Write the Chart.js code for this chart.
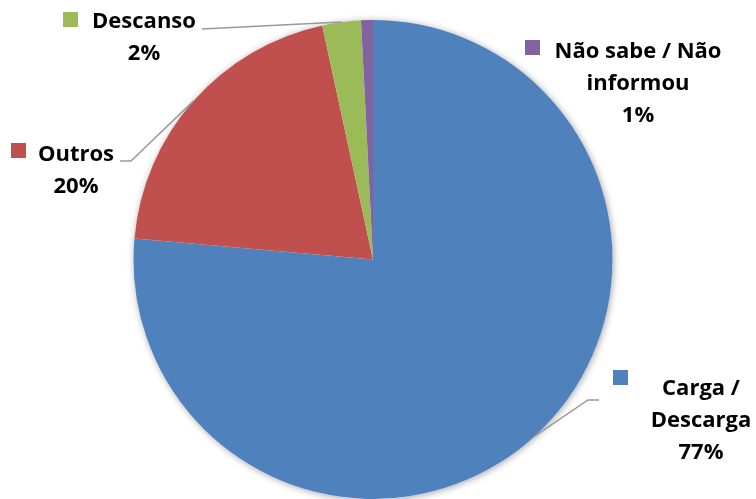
<!DOCTYPE html>
<html lang="pt">
<head>
<meta charset="UTF-8">
<meta name="viewport" content="width=device-width, initial-scale=1.0">
<title>Motivo da parada</title>
<style>
    html, body { margin: 0; padding: 0; background: #fff; }
    #wrap { width: 756px; height: 499px; position: relative; }
</style>
</head>
<body>
<div id="wrap"><canvas id="pie-chart"></canvas></div>

<script src="https://cdn.jsdelivr.net/npm/chart.js"></script>
<script>
    const categories = [['Carga /', 'Descarga'], ['Outros'], ['Descanso'], ['Não sabe / Não', 'informou']];
    const shares = [76.4, 20.2, 2.6, 0.8];
    const shareLabels = ['77%', '20%', '2%', '1%'];

    const colors = ['#4F81BD', '#C0504D', '#9BBB59', '#8064A2'];

    // where each data label sits (text centre, first baseline, legend key, leader bend)
    const labelLayout = [
        { cx: 701, base: 395, key: [613, 370], leader: [[588, 400], [599, 400]] },
        { cx: 76, base: 161, key: [11, 143], leader: [[131, 161], [120, 161]] },
        { cx: 144, base: 28, key: [63, 12], leader: [[202, 29]] },
        { cx: 638, base: 58, key: [525, 40], leader: null },
    ];
    const lineHeight = 32;
    const labelFont = 'bold 22px "Open Sans", "Liberation Sans", sans-serif';

    const pieShadow = {
        id: 'pieShadow',
        beforeDatasetsDraw(chart) {
            const arc = chart.getDatasetMeta(0).data[0];
            if (!arc) return;
            const ctx = chart.ctx;
            ctx.save();
            ctx.shadowColor = 'rgba(0, 0, 0, 0.35)';
            ctx.shadowBlur = 7;
            ctx.shadowOffsetX = 1;
            ctx.shadowOffsetY = 1;
            ctx.fillStyle = '#ffffff';
            ctx.beginPath();
            ctx.arc(arc.x, arc.y, arc.outerRadius, 0, Math.PI * 2);
            ctx.fill();
            ctx.restore();
        }
    };

    const sliceLabels = {
        id: 'sliceLabels',
        afterDatasetsDraw(chart) {
            const ctx = chart.ctx;
            const arcs = chart.getDatasetMeta(0).data;
            ctx.save();
            arcs.forEach((arc, i) => {
                const pos = labelLayout[i];
                const mid = (arc.startAngle + arc.endAngle) / 2;
                const ex = arc.x + Math.cos(mid) * arc.outerRadius;
                const ey = arc.y + Math.sin(mid) * arc.outerRadius;

                if (pos.leader) {
                    ctx.strokeStyle = '#999999';
                    ctx.lineWidth = 1.5;
                    ctx.beginPath();
                    ctx.moveTo(ex, ey);
                    pos.leader.forEach(p => ctx.lineTo(p[0], p[1]));
                    ctx.stroke();
                }

                ctx.fillStyle = colors[i];
                ctx.fillRect(pos.key[0], pos.key[1], 15, 15);

                ctx.fillStyle = '#000';
                ctx.font = labelFont;
                ctx.textAlign = 'center';
                ctx.textBaseline = 'alphabetic';
                const lines = [...chart.data.labels[i], shareLabels[i]];
                lines.forEach((txt, k) => {
                    ctx.fillText(txt, pos.cx, pos.base + k * lineHeight);
                });
            });
            ctx.restore();
        }
    };

    const ctx = document.getElementById('pie-chart').getContext('2d');
    new Chart(ctx, {
        type: 'pie',
        data: {
            labels: categories,
            datasets: [{
                data: shares,
                backgroundColor: colors,
                borderWidth: 0,
            }],
        },
        options: {
            responsive: true,
            maintainAspectRatio: false,
            animation: false,
            layout: {
                padding: { left: 133, right: 143, top: 20, bottom: 0 },
            },
            plugins: {
                legend: { display: false },
                tooltip: { enabled: false },
            },
        },
        plugins: [pieShadow, sliceLabels],
    });
</script>
</body>
</html>
